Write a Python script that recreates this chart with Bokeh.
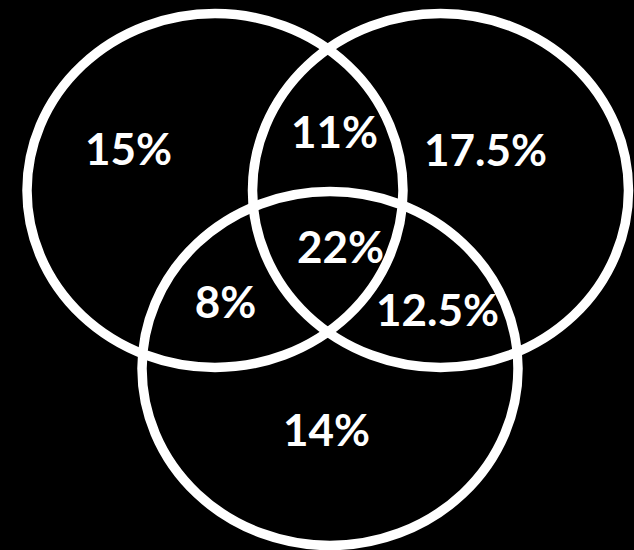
from bokeh.plotting import figure
from bokeh.models import Range1d, ColumnDataSource
from bokeh.core.properties import value
from bokeh.embed import file_html
from bokeh.resources import INLINE

# --- data ---
regions = ["A only", "A∩B", "B only", "A∩C", "A∩B∩C", "B∩C", "C only"]
shares = [15, 11, 17.5, 8, 22, 12.5, 14]
labels = [f"{v:g}%" for v in shares]

# --- layout (pixel-like coordinates, y grows downward) ---
set_cx = [214.5, 440, 329.5]
set_cy = [190, 190, 368]
set_w = 376
set_h = 354
label_x = [128, 334, 485, 225, 340, 437, 326]
label_y = [147, 130, 148, 300, 245, 308, 428]

W, H = 634, 550
p = figure(width=W, height=H, output_backend="svg", toolbar_location=None,
           x_range=Range1d(0, W), y_range=Range1d(H, 0),
           min_border=0, background_fill_color="black",
           border_fill_color="black", outline_line_color=None)
p.axis.visible = False
p.grid.visible = False

p.ellipse(x=set_cx, y=set_cy, width=set_w, height=set_h,
          fill_color=None, line_color="white", line_width=9.5)

src = ColumnDataSource(dict(x=label_x, y=label_y, text=labels, region=regions))
p.text(x="x", y="y", text="text", source=src, text_color="white",
       text_font=value("Lato"), text_font_style="bold", text_font_size="44px",
       text_align="center", text_baseline="alphabetic")

html = file_html(p, INLINE)
html = html.replace("<head>", "<head><style>html,body{background:#000;}</style>", 1)
open("out.html", "w").write(html)
